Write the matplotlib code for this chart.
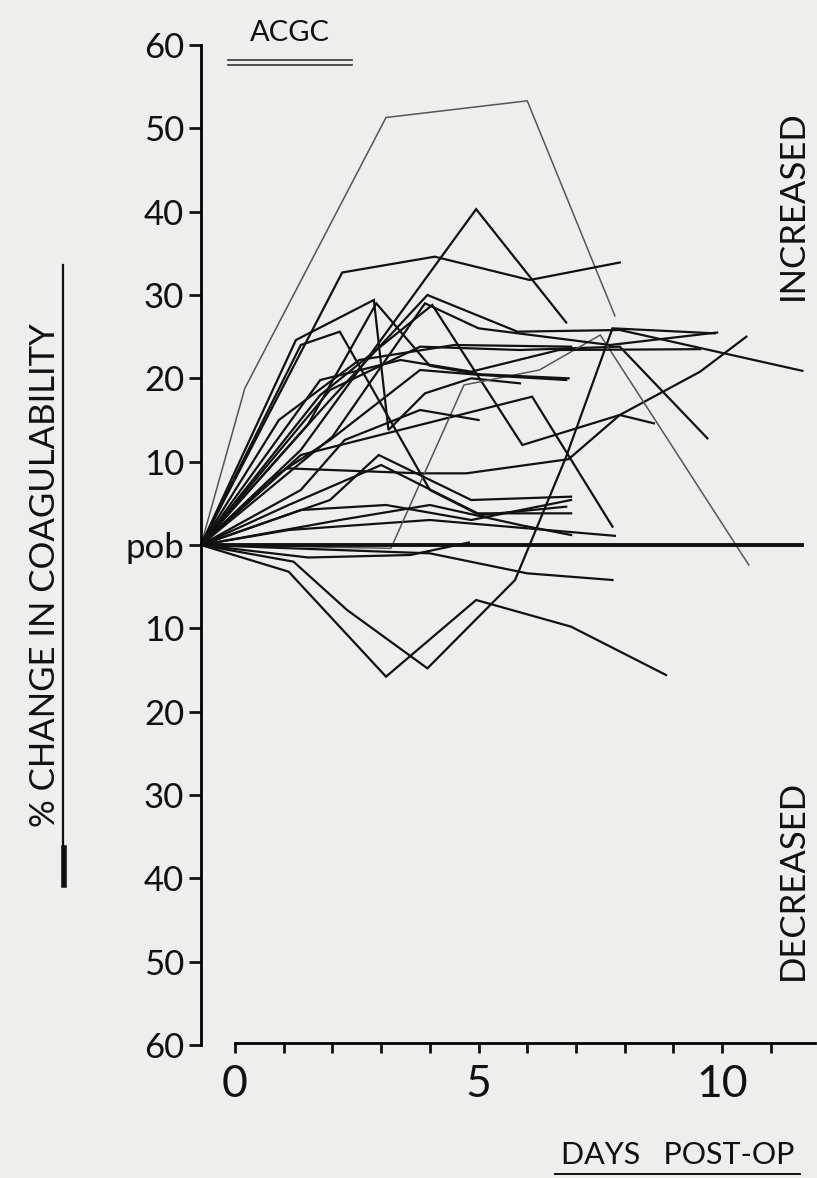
import numpy as np
import matplotlib
matplotlib.use("Agg")
import matplotlib.pyplot as plt
from matplotlib.lines import Line2D

plt.rcParams['font.family'] = ['Lato', 'DejaVu Sans']

# every patient starts at the pre-op baseline (pob), drawn on the vertical axis
PREOP = -0.7

# days post-op and % change in coagulability for each patient
patient_days = [
    [PREOP, 0.2, 3.1, 6.0, 7.8],
    [PREOP, 2.2, 4.1, 6.05, 7.9],
    [PREOP, 1.35, 4.95, 6.8],
    [PREOP, 1.95, 3.95, 5.8, 7.9, 11.65],
    [PREOP, 1.25, 2.85, 3.15, 3.9, 4.85, 5.85],
    [PREOP, 1.35, 2.15, 4.0, 4.95, 6.9],
    [PREOP, 1.05, 3.8, 4.75, 6.85, 7.9, 9.55, 10.5],
    [PREOP, 1.2, 2.3, 3.95, 5.75, 6.8, 7.75, 9.85],
    [PREOP, 1.1, 3.1, 4.95, 6.9, 8.85],
    [PREOP, 4.0, 6.0, 7.75],
    [PREOP, 1.95, 3.8, 5.85, 7.9, 9.7],
    [PREOP, 0.9, 2.55, 4.5, 6.9],
    [PREOP, 1.1, 4.0, 7.8],
    [PREOP, 1.75, 4.05, 5.9, 7.9, 8.6],
    [PREOP, 1.35, 6.1, 7.75],
    [PREOP, 3.2, 4.7, 6.25, 7.5, 10.55],
    [PREOP, 1.95, 2.95, 4.85, 6.9],
    [PREOP, 1.1, 3.0, 5.05, 6.8],
    [PREOP, 2.15, 4.0, 5.85, 6.9],
    [PREOP, 1.35, 3.1, 4.85, 6.9],
    [PREOP, 1.75, 3.4, 4.85, 6.65, 9.55],
    [PREOP, 0.7, 1.95, 3.8, 5.05, 6.8],
    [PREOP, 1.35, 2.25, 3.8, 5.0],
    [PREOP, 1.5, 2.9, 4.0, 5.0, 6.85],
    [PREOP, 2.0, 3.9, 5.0, 7.7, 9.9],
    [PREOP, 1.5, 3.6, 4.8],
]
patient_change = [
    [0, 18.8, 51.3, 53.3, 27.5],
    [0, 32.7, 34.6, 31.8, 33.9],
    [0, 11.4, 40.3, 26.7],
    [0, 17.4, 30.0, 25.6, 25.8, 20.9],
    [0, 24.6, 29.4, 13.8, 18.2, 20.0, 19.4],
    [0, 24.0, 25.6, 6.6, 3.8, 3.8],
    [0, 9.2, 8.6, 8.6, 10.3, 15.6, 20.8, 25.0],
    [0, -2.0, -7.8, -14.8, -4.2, 10.6, 26.0, 25.4],
    [0, -3.2, -15.8, -6.6, -9.8, -15.6],
    [0, -1.0, -3.4, -4.2],
    [0, 18.6, 23.8, 23.4, 23.8, 12.8],
    [0, 15.0, 22.2, 24.0, 23.8],
    [0, 1.8, 3.0, 1.1],
    [0, 18.0, 28.8, 12.0, 15.6, 14.6],
    [0, 10.8, 17.8, 2.2],
    [0, -0.4, 19.2, 21.0, 25.2, -2.4],
    [0, 5.4, 10.8, 5.4, 5.8],
    [0, 4.8, 9.6, 3.6, 4.6],
    [0, 3.0, 4.8, 2.4, 1.2],
    [0, 4.2, 4.8, 3.0, 5.4],
    [0, 19.8, 22.2, 20.8, 23.4, 23.5],
    [0, 7.8, 12.6, 21.0, 20.4, 19.8],
    [0, 6.6, 12.6, 16.2, 15.0],
    [0, 14.5, 29.0, 21.5, 20.5, 20.0],
    [0, 13.0, 29.0, 26.0, 24.0, 25.5],
    [0, -1.5, -1.2, 0.3],
]
faint_lines = [0, 15]   # the two lighter pen strokes

baseline_days = [PREOP, 11.65]
baseline_vals = [0, 0]

y_ticks = [60, 50, 40, 30, 20, 10, 0, -10, -20, -30, -40, -50, -60]
y_labels = ['60', '50', '40', '30', '20', '10', 'pob', '10', '20', '30', '40', '50', '60']
x_major = [0, 5, 10]
x_minor = list(range(0, 12))

W, H = 817, 1178
INK = '#111111'
fig = plt.figure(figsize=(W / 100, H / 100), dpi=100)
fig.patch.set_facecolor('#eeeeec')

# axes box: vertical axis at x=200px, 60 at y=45px, -60 at y=1045px
ax = fig.add_axes([200 / W, (H - 1045) / H, (W - 200) / W, 1000 / H])
ax.set_facecolor('none')
ax.set_xlim(PREOP - 0.02, 11.95)
ax.set_ylim(-60, 60)

for i, (d, v) in enumerate(zip(patient_days, patient_change)):
    if i in faint_lines:
        ax.plot(d, v, color='#555555', lw=1.1, solid_joinstyle='miter')
    else:
        ax.plot(d, v, color=INK, lw=1.6, solid_joinstyle='miter')
ax.plot(baseline_days, baseline_vals, color=INK, lw=2.8)

for s in ['top', 'right']:
    ax.spines[s].set_visible(False)
ax.spines['left'].set_linewidth(2.0)
ax.spines['left'].set_position(('data', PREOP))
ax.spines['bottom'].set_linewidth(2.0)
ax.spines['bottom'].set_bounds(0, 11.9)
ax.spines['bottom'].set_position(('data', -59.8))

ax.set_yticks(y_ticks)
ax.set_yticklabels(y_labels)
ax.set_xticks(x_major)
ax.set_xticklabels([str(t) for t in x_major])
ax.set_xticks(x_minor, minor=True)
ax.tick_params(axis='y', direction='out', length=9, width=2, pad=3,
               labelsize=25, colors=INK)
ax.tick_params(axis='x', which='both', direction='out', length=7, width=2,
               pad=8, labelsize=32, colors=INK)

# titles and side notes
fig.text(290 / W, 1 - 33 / H, 'ACGC', ha='center', va='center', fontsize=21,
         color=INK)
for yy in (60, 65):
    fig.add_artist(Line2D([228 / W, 352 / W], [1 - yy / H, 1 - yy / H],
                          color='#333333', lw=1.2))

fig.text(45 / W, 1 - 575 / H, '% CHANGE IN COAGULABILITY', rotation=90,
         ha='center', va='center', fontsize=25, color=INK)
fig.add_artist(Line2D([63 / W, 63 / W], [1 - 265 / H, 1 - 885 / H],
                      color=INK, lw=1.6))
fig.add_artist(Line2D([64 / W, 64 / W], [1 - 848 / H, 1 - 885 / H],
                      color=INK, lw=4))

fig.text(793 / W, 1 - 205 / H, 'INCREASED', rotation=90, ha='center',
         va='center', fontsize=25, color=INK)
fig.text(793 / W, 1 - 880 / H, 'DECREASED', rotation=90, ha='center',
         va='center', fontsize=25, color=INK)

fig.text(678 / W, 1 - 1155 / H, 'DAYS   POST-OP', ha='center', va='center',
         fontsize=22, color=INK)
fig.add_artist(Line2D([555 / W, 800 / W], [1 - 1174 / H, 1 - 1174 / H],
                      color=INK, lw=1.4))

fig.savefig('out.png', dpi=100, facecolor=fig.get_facecolor())
